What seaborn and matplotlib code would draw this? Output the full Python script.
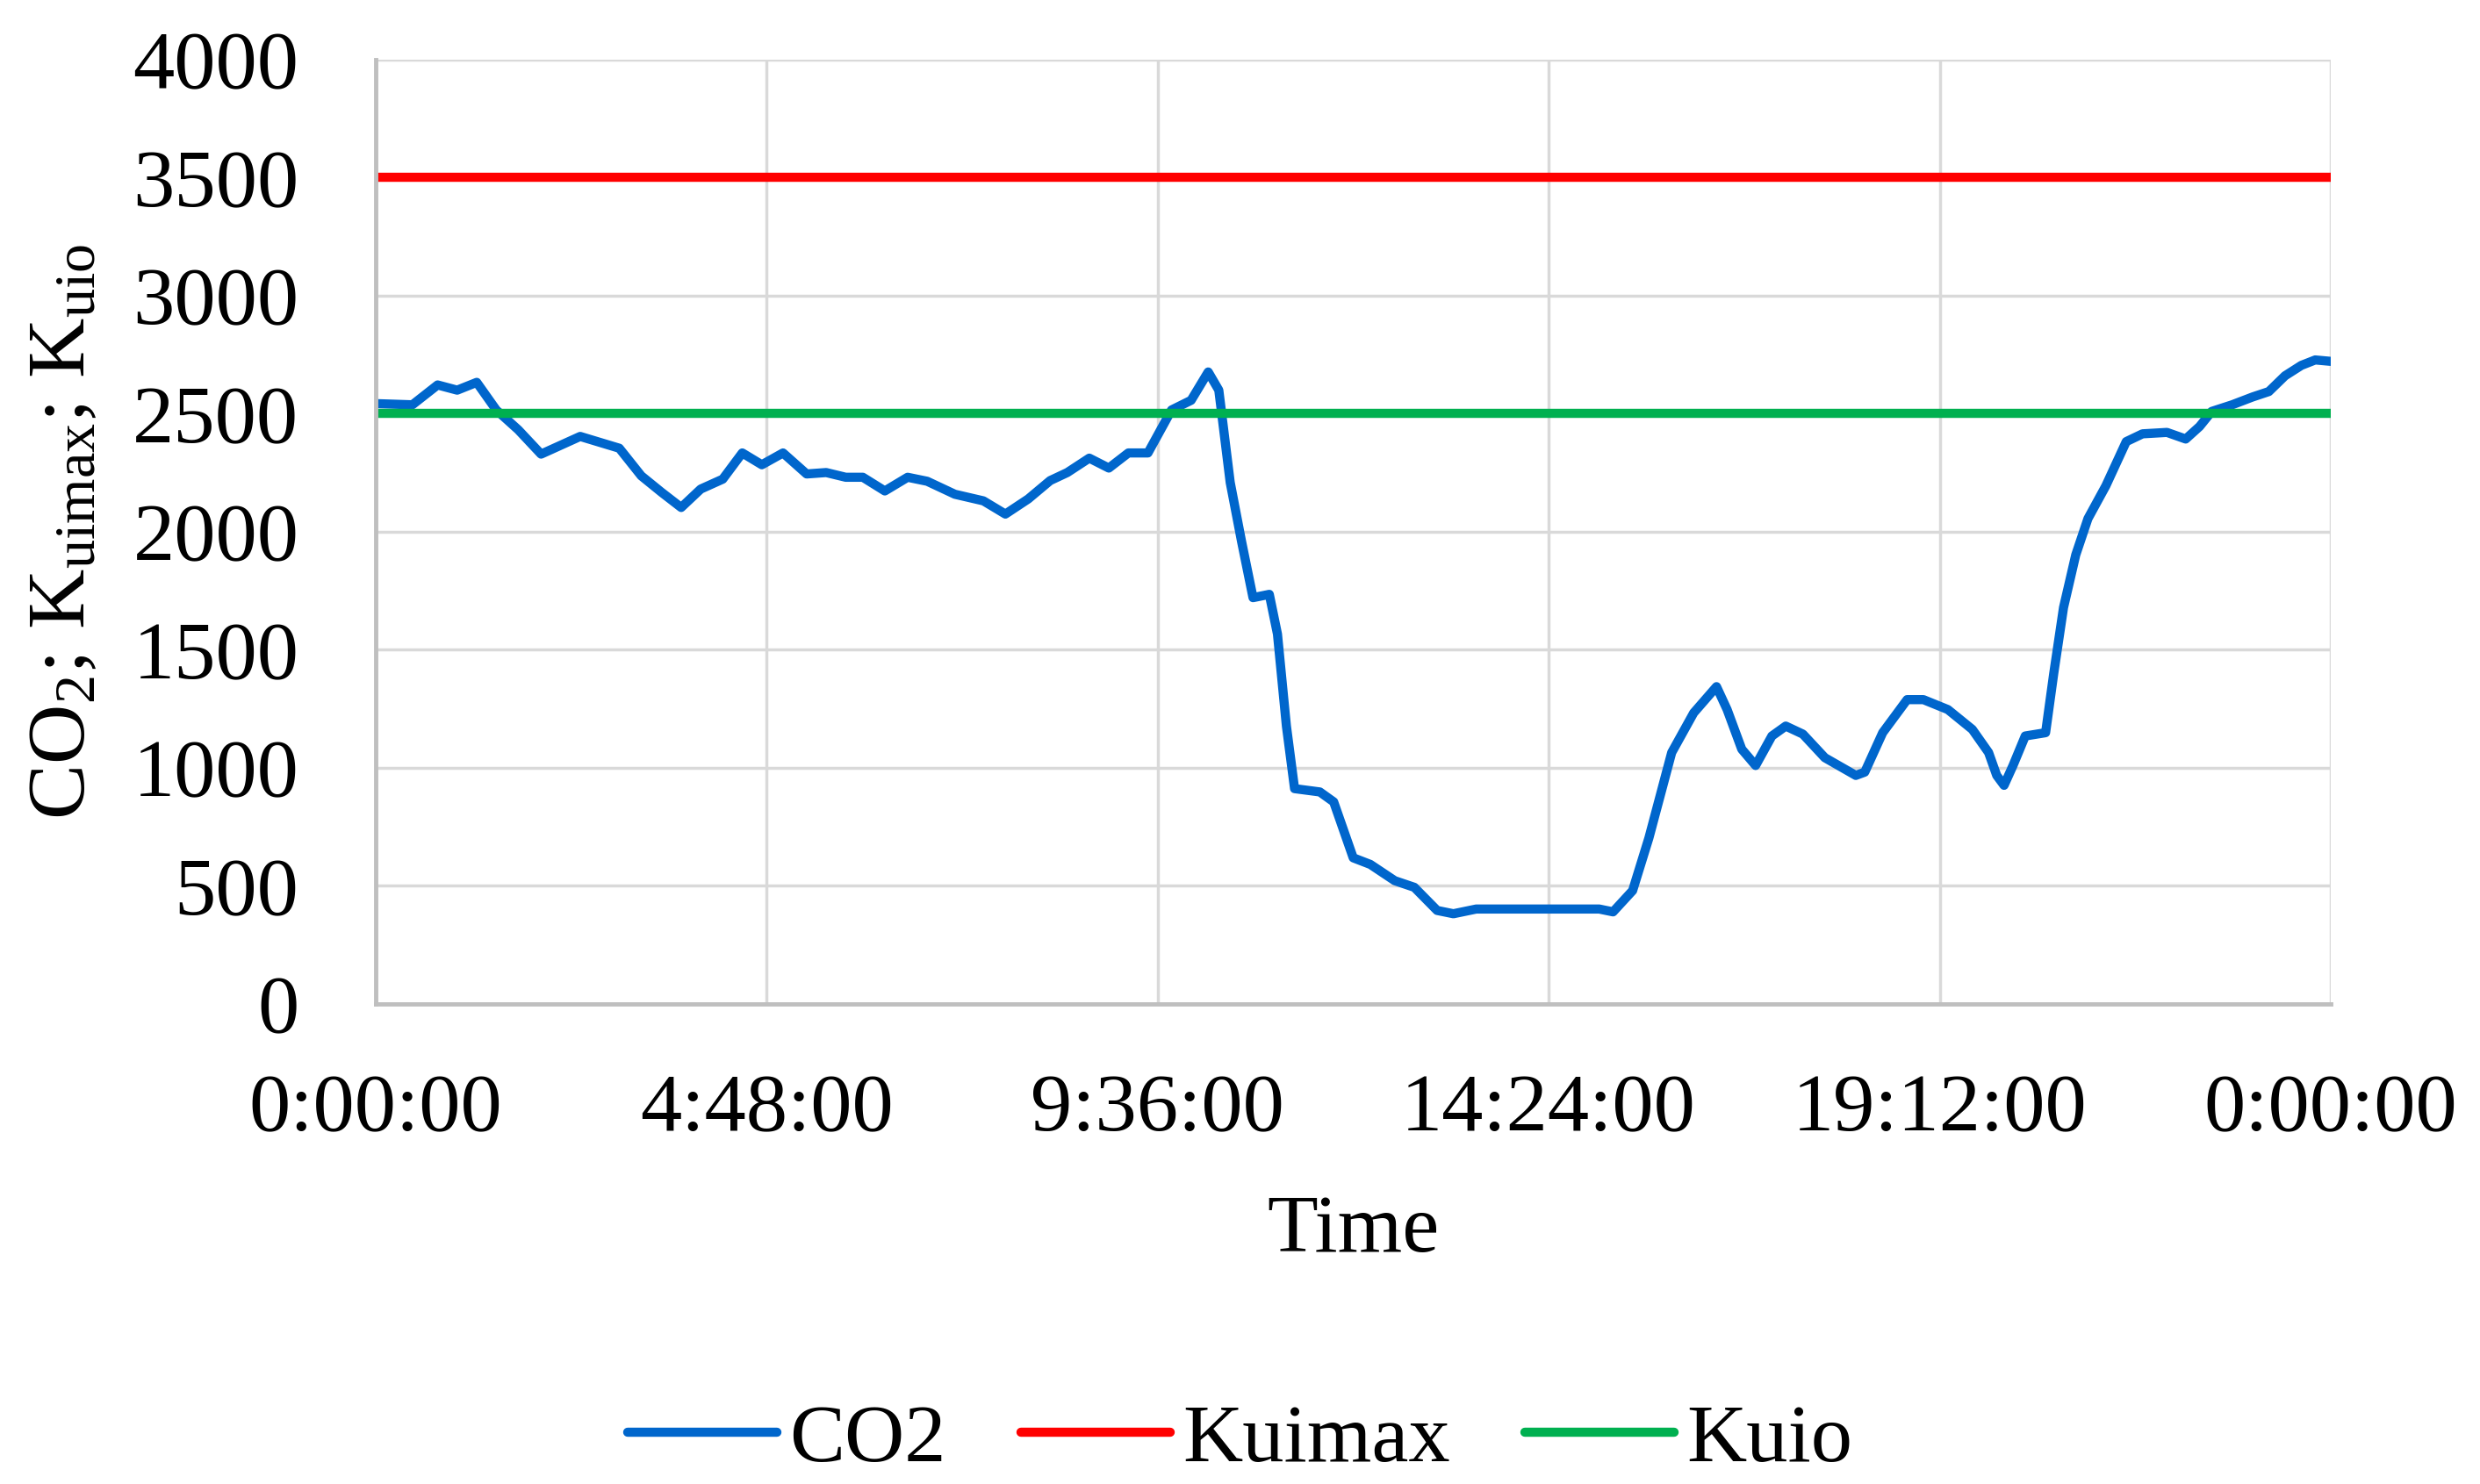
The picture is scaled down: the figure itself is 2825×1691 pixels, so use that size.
import matplotlib
matplotlib.use("Agg")
import matplotlib.pyplot as plt
import seaborn as sns
import pandas as pd
import numpy as np

# ---------------- data ----------------
TIME_H = [0.00, 0.45, 0.76, 1.00, 1.24, 1.48, 1.75, 2.03, 2.51, 2.99, 3.26, 3.51, 3.75, 3.99,
          4.26, 4.50, 4.74, 5.00, 5.29, 5.53, 5.77, 5.98, 6.25, 6.53, 6.77, 7.11, 7.46, 7.73,
          8.01, 8.28, 8.49, 8.76, 9.00, 9.24, 9.48, 9.77, 10.01, 10.22, 10.35, 10.49, 10.63,
          10.77, 10.97, 11.07, 11.18, 11.28, 11.59, 11.76, 12.00, 12.21, 12.51, 12.75, 13.03,
          13.23, 13.51, 14.40, 15.02, 15.19, 15.43, 15.63, 15.91, 16.18, 16.46, 16.59, 16.77,
          16.94, 17.14, 17.31, 17.52, 17.79, 18.17, 18.28, 18.50, 18.80, 19.00, 19.30, 19.60,
          19.80, 19.90, 19.99, 20.10, 20.25, 20.50, 20.60, 20.72, 20.87, 21.02, 21.24, 21.49,
          21.69, 21.99, 22.22, 22.39, 22.54, 22.79, 23.04, 23.24, 23.44, 23.64, 23.81, 24.00]
CO2 = [2543, 2538, 2622, 2600, 2633, 2516, 2432, 2329, 2404, 2354, 2237, 2167, 2103, 2181,
       2223, 2334, 2284, 2334, 2245, 2251, 2231, 2231, 2173, 2231, 2214, 2159, 2131, 2075,
       2139, 2217, 2251, 2312, 2270, 2334, 2334, 2516, 2557, 2677, 2600, 2209, 1958,
       1721, 1735, 1567, 1177, 912, 898, 856, 619, 591, 522, 494, 396,
       382, 402, 402, 402, 390, 480, 703, 1065, 1233, 1344, 1247, 1079,
       1010, 1135, 1177, 1143, 1043, 968, 982, 1149, 1289, 1289, 1247, 1163,
       1065, 968, 926, 1010, 1135, 1149, 1400, 1679, 1902, 2056, 2195, 2382,
       2415, 2421, 2393, 2446, 2510, 2538, 2571, 2594, 2661, 2705, 2728, 2722]
KUIMAX = 3500
KUIO = 2500
SERIES = ["CO2", "Kuimax", "Kuio"]
COLORS = ["#0066CC", "#FF0000", "#00B050"]
X_TICKS = [0, 4.8, 9.6, 14.4, 19.2, 24.0]
X_TICK_LABELS = ["0:00:00", "4:48:00", "9:36:00", "14:24:00", "19:12:00", "0:00:00"]
Y_TICKS = [0, 500, 1000, 1500, 2000, 2500, 3000, 3500, 4000]

# ---------------- style ----------------
sns.set_theme(style="whitegrid")
plt.rcParams["font.family"] = ["Liberation Serif", "DejaVu Serif"]
plt.rcParams["mathtext.fontset"] = "custom"
plt.rcParams["mathtext.rm"] = "Liberation Serif"
plt.rcParams["mathtext.it"] = "Liberation Serif:italic"
plt.rcParams["text.color"] = "black"
plt.rcParams["axes.labelcolor"] = "black"
plt.rcParams["xtick.color"] = "black"
plt.rcParams["ytick.color"] = "black"

t_span = [TIME_H[0], TIME_H[-1]]
df = pd.concat([
    pd.DataFrame({"Time": TIME_H, "Value": CO2, "Series": SERIES[0]}),
    pd.DataFrame({"Time": t_span, "Value": [KUIMAX, KUIMAX], "Series": SERIES[1]}),
    pd.DataFrame({"Time": t_span, "Value": [KUIO, KUIO], "Series": SERIES[2]}),
], ignore_index=True)

fig, ax = plt.subplots(figsize=(28.25, 16.91), dpi=100)
fig.subplots_adjust(left=0.1515, right=0.9398, bottom=0.3235, top=0.9598)

sns.lineplot(data=df, x="Time", y="Value", hue="Series", hue_order=SERIES,
             palette=dict(zip(SERIES, COLORS)), estimator=None, sort=False,
             linewidth=7.5, ax=ax, legend=True)
for ln in ax.lines:
    ln.set_solid_joinstyle("round")
    ln.set_solid_capstyle("round")

ax.set_xlim(0, 24)
ax.set_ylim(0, 4000)
ax.set_xticks(X_TICKS)
ax.set_xticklabels(X_TICK_LABELS)
ax.set_yticks(Y_TICKS)
ax.set_yticklabels([str(v) for v in Y_TICKS])

ax.grid(True, color="#D9D9D9", linewidth=2.5)
ax.set_axisbelow(True)
for side in ["top", "right"]:
    ax.spines[side].set_visible(False)
for side in ["left", "bottom"]:
    ax.spines[side].set_visible(True)
    ax.spines[side].set_color("#BFBFBF")
    ax.spines[side].set_linewidth(3.5)

ax.tick_params(axis="x", labelsize=68, pad=57, length=0, colors="black")
ax.tick_params(axis="y", labelsize=68, pad=63, length=0, colors="black")

ax.set_xlabel("Time", fontsize=68, labelpad=38, color="black")
ax.set_ylabel(r"CO$_{2}$; K$_{\mathrm{uimax}}$; K$_{\mathrm{uio}}$", fontsize=68, color="black")
ax.yaxis.set_label_coords(-0.14, 0.5)

handles, labels = ax.get_legend_handles_labels()
if ax.legend_ is not None:
    ax.legend_.remove()
fig.legend(handles, labels, loc="center", bbox_to_anchor=(0.5, 0.029), ncol=3,
           frameon=False, fontsize=68, handlelength=1.8, handletextpad=0.15,
           columnspacing=0.9, labelcolor="black")

fig.savefig("out.png", dpi=100, facecolor="white")
